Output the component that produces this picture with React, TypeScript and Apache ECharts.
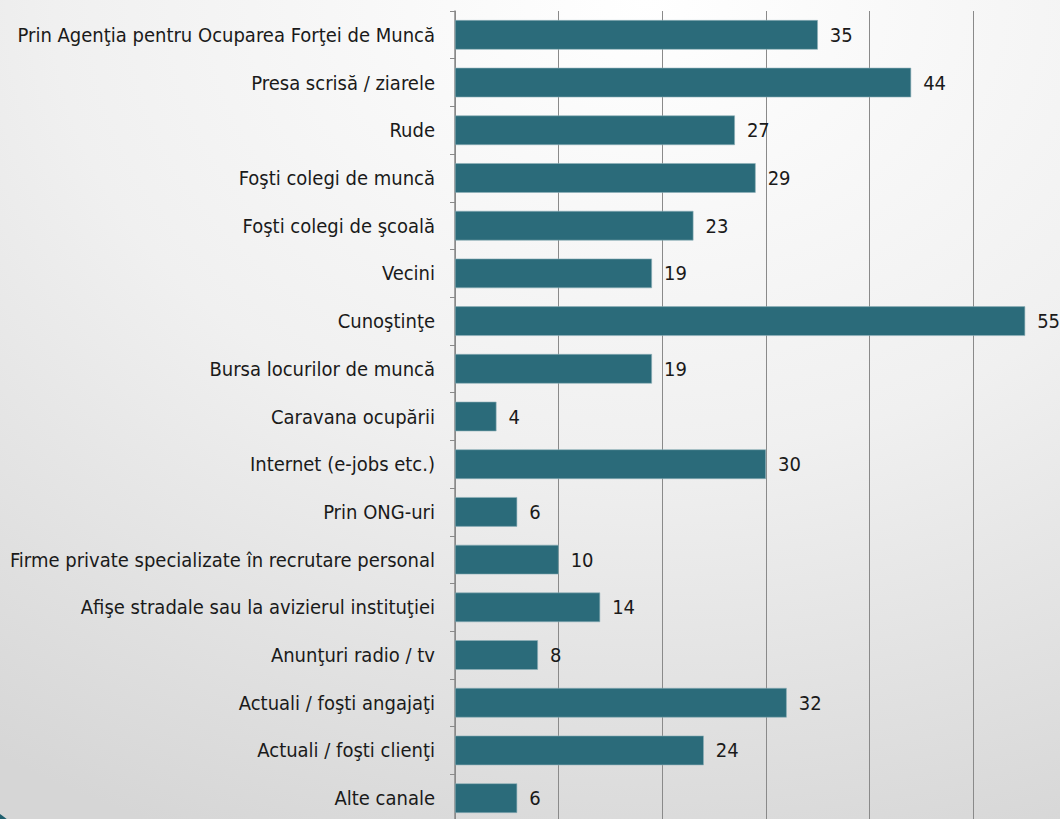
import React, { useEffect, useRef } from "react";
import * as echarts from "echarts";

const categories = [
  "Prin Agenţia pentru Ocuparea Forţei de Muncă",
  "Presa scrisă / ziarele",
  "Rude",
  "Foşti colegi de muncă",
  "Foşti colegi de şcoală",
  "Vecini",
  "Cunoştinţe",
  "Bursa locurilor de muncă",
  "Caravana ocupării",
  "Internet (e-jobs etc.)",
  "Prin ONG-uri",
  "Firme private specializate în recrutare personal",
  "Afişe stradale sau la avizierul instituţiei",
  "Anunţuri radio / tv",
  "Actuali / foşti angajaţi",
  "Actuali / foşti clienţi",
  "Alte canale",
];

const values = [35, 44, 27, 29, 23, 19, 55, 19, 4, 30, 6, 10, 14, 8, 32, 24, 6];

const FONT = "'Liberation Sans Narrow', 'DejaVu Sans Condensed', 'Noto Sans', sans-serif";

export default function App() {
  const ref = useRef<HTMLDivElement>(null);
  useEffect(() => {
    if (!ref.current) return;
    const chart = echarts.init(ref.current, null, { renderer: "svg" });
    chart.setOption({
      animation: false,
      backgroundColor: {
        type: "radial",
        x: 0.6,
        y: 0.0,
        r: 1.1,
        colorStops: [
          { offset: 0, color: "#ffffff" },
          { offset: 0.5, color: "#f0f0f0" },
          { offset: 1, color: "#d6d6d6" },
        ],
      },
      graphic: [
        {
          type: "circle",
          shape: { cx: -30, cy: 860, r: 55 },
          style: { fill: "#1f5f6e" },
          silent: true,
        },
      ],
      grid: { left: 455, top: 11, right: 0, bottom: 0, containLabel: false },
      xAxis: {
        type: "value",
        min: 0,
        max: 60,
        interval: 10,
        axisLabel: { show: false },
        axisLine: { show: false },
        axisTick: { show: false },
        splitLine: { show: true, lineStyle: { color: "#8a8a8a", width: 1 } },
      },
      yAxis: {
        type: "category",
        data: categories,
        inverse: true,
        axisLine: { show: true, lineStyle: { color: "#8a8a8a", width: 1.5 } },
        axisTick: { show: true, length: 5, lineStyle: { color: "#8a8a8a" } },
        axisLabel: {
          margin: 20,
          fontFamily: FONT,
          fontSize: 20,
          color: "#1a1a1a",
        },
      },
      series: [
        {
          type: "bar",
          data: values,
          barCategoryGap: "38%",
          itemStyle: { color: "#2b6b7a", borderColor: "#8fb0b8", borderWidth: 0.6 },
          label: {
            show: true,
            position: "right",
            distance: 12,
            fontFamily: FONT,
            fontSize: 20,
            color: "#1a1a1a",
          },
        },
      ],
    });
    return () => chart.dispose();
  }, []);
  return (
    <div
      style={{
        position: "absolute",
        left: 0,
        top: 0,
        width: 1060,
        height: 819,
        overflow: "hidden",
      }}
    >
      <div ref={ref} style={{ width: 1077, height: 822 }} />
    </div>
  );
}
